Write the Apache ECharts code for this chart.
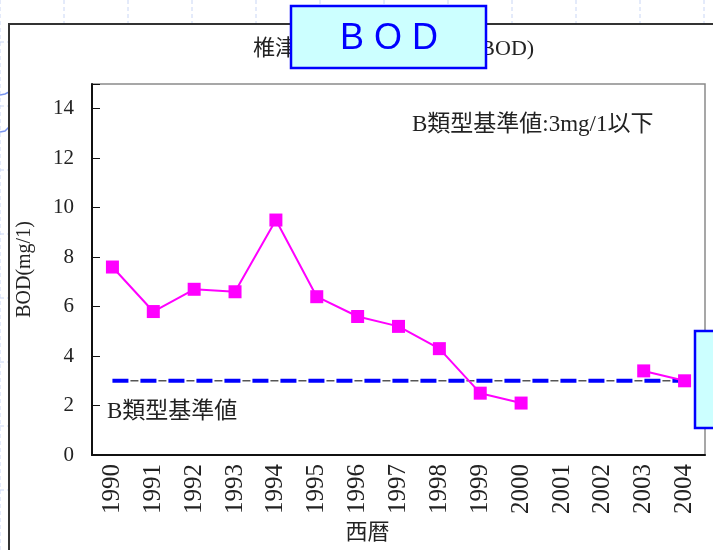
<!DOCTYPE html>
<html>
<head>
<meta charset="utf-8">
<script src="https://cdn.jsdelivr.net/npm/echarts@6/dist/echarts.min.js"></script>
<style>
  html, body { margin: 0; padding: 0; background: #fff; }
  #chart { width: 713px; height: 550px; }
</style>
</head>
<body>
<div id="chart"></div>
<script>
// Annual BOD at the Shiizu River monitoring point
const years = ['1990', '1991', '1992', '1993', '1994', '1995', '1996', '1997',
               '1998', '1999', '2000', '2001', '2002', '2003', '2004'];
const bodValues = [7.6, 5.8, 6.7, 6.6, 9.5, 6.4, 5.6, 5.2, 4.3, 2.5, 2.1, null, null, 3.4, 3.0];
const standardValue = 3;
const standardLine = years.map(() => standardValue);
const yTicks = [0, 2, 4, 6, 8, 10, 12, 14];

const titleText = '椎津川の水質経年変化(BOD)';
const boxLabel = 'B O D';
const noteText = 'B類型基準値:3mg/1以下';
const lineLabel = 'B類型基準値';
const yName = 'BOD(mg/1)';
const xName = '西暦';

const serif = "'Liberation Serif', 'Noto Sans CJK JP', serif";

// faint page grid behind the chart frame
const pageGrid = [];
for (let x = 0; x <= 713; x += 64) {
  pageGrid.push({ type: 'line', z: -20, silent: true,
    shape: { x1: x, y1: 0, x2: x, y2: 550 },
    style: { stroke: '#c9d6f5', lineWidth: 1, lineDash: [4, 3] } });
}
for (let y = 42; y <= 550; y += 64) {
  pageGrid.push({ type: 'line', z: -20, silent: true,
    shape: { x1: 0, y1: y, x2: 713, y2: y },
    style: { stroke: '#c9d6f5', lineWidth: 1, lineDash: [4, 3] } });
}

const chart = echarts.init(document.getElementById('chart'), null, { renderer: 'canvas' });

chart.setOption({
  backgroundColor: '#ffffff',
  animation: false,
  title: {
    text: titleText,
    left: 248,
    top: 33,
    textStyle: { fontFamily: serif, fontSize: 22, fontWeight: 'normal', color: '#222' }
  },
  grid: {
    left: 92, top: 84, right: 8, bottom: 95,
    show: true, borderColor: '#8a8a8a', borderWidth: 1.5, backgroundColor: 'transparent'
  },
  xAxis: {
    type: 'category',
    data: years,
    boundaryGap: true,
    name: xName,
    nameLocation: 'middle',
    nameGap: 64,
    nameTextStyle: { fontFamily: serif, fontSize: 22, color: '#222', padding: [0, 62, 0, 0] },
    axisLine: { lineStyle: { color: '#111', width: 2 } },
    axisTick: { inside: true, length: 8, lineStyle: { color: '#111', width: 1 } },
    axisLabel: { rotate: 90, margin: 9, fontFamily: serif, fontSize: 25, color: '#222', interval: 0 },
    splitLine: { show: false }
  },
  yAxis: {
    type: 'value',
    min: 0,
    max: 15,
    interval: 2,
    name: yName,
    nameLocation: 'middle',
    nameRotate: 90,
    nameGap: 57,
    nameTextStyle: { fontFamily: serif, fontSize: 20, color: '#222' },
    axisLine: { show: true, lineStyle: { color: '#111', width: 2 } },
    axisTick: { show: true, inside: true, length: 8, lineStyle: { color: '#111', width: 1 } },
    axisLabel: {
      margin: 18, fontFamily: serif, fontSize: 21, color: '#222',
      formatter: v => (yTicks.indexOf(v) >= 0 ? String(v) : '')
    },
    splitLine: { show: false }
  },
  series: [
    {
      name: 'standard-under',
      type: 'line',
      data: standardLine,
      symbol: 'none',
      silent: true,
      z: 2,
      lineStyle: { color: '#555', width: 1.5, type: [8, 20], dashOffset: 10 }
    },
    {
      name: 'standard',
      type: 'line',
      data: standardLine,
      symbol: 'none',
      silent: true,
      z: 3,
      lineStyle: { color: '#0000ff', width: 4, type: [16, 12] }
    },
    {
      name: 'BOD',
      type: 'line',
      data: bodValues,
      connectNulls: false,
      symbol: 'rect',
      symbolSize: 13,
      z: 4,
      itemStyle: { color: '#ff00ff' },
      lineStyle: { color: '#ff00ff', width: 2 }
    }
  ],
  graphic: [
    ...pageGrid,
    // left edge of a shape peeking in from the page
    { type: 'polyline', z: -15, silent: true,
      shape: { points: [[0, 95], [5, 94], [9, 92]] },
      style: { stroke: '#7a95ee', lineWidth: 1.5, fill: null } },
    { type: 'polyline', z: -15, silent: true,
      shape: { points: [[0, 132], [5, 131], [9, 127]] },
      style: { stroke: '#7a95ee', lineWidth: 1.5, fill: null } },
    // chart frame
    { type: 'rect', z: -10, silent: true,
      shape: { x: 9, y: 24, width: 720, height: 540 },
      style: { fill: '#ffffff', stroke: '#333', lineWidth: 2 } },
    // annotations
    { type: 'text', z: 50, left: 412, top: 113,
      style: { text: noteText, fontFamily: serif, fontSize: 23, fill: '#222' } },
    { type: 'text', z: 50, left: 107, top: 400,
      style: { text: lineLabel, fontFamily: serif, fontSize: 23, fill: '#222' } },
    // caption boxes
    { type: 'group', z: 100, children: [
      { type: 'rect', z: 100,
        shape: { x: 291, y: 6, width: 195, height: 62 },
        style: { fill: '#ccffff', stroke: '#0000ff', lineWidth: 2.5 } },
      { type: 'text', z: 101, x: 389, y: 39,
        style: { text: boxLabel, fontFamily: "'Liberation Sans', Arial, sans-serif", fontSize: 36,
                 fill: '#0000ff', align: 'center', verticalAlign: 'middle' } }
    ] },
    { type: 'rect', z: 100,
      shape: { x: 695, y: 331, width: 40, height: 97 },
      style: { fill: '#ccffff', stroke: '#0000ff', lineWidth: 2.5 } }
  ]
});
</script>
</body>
</html>
